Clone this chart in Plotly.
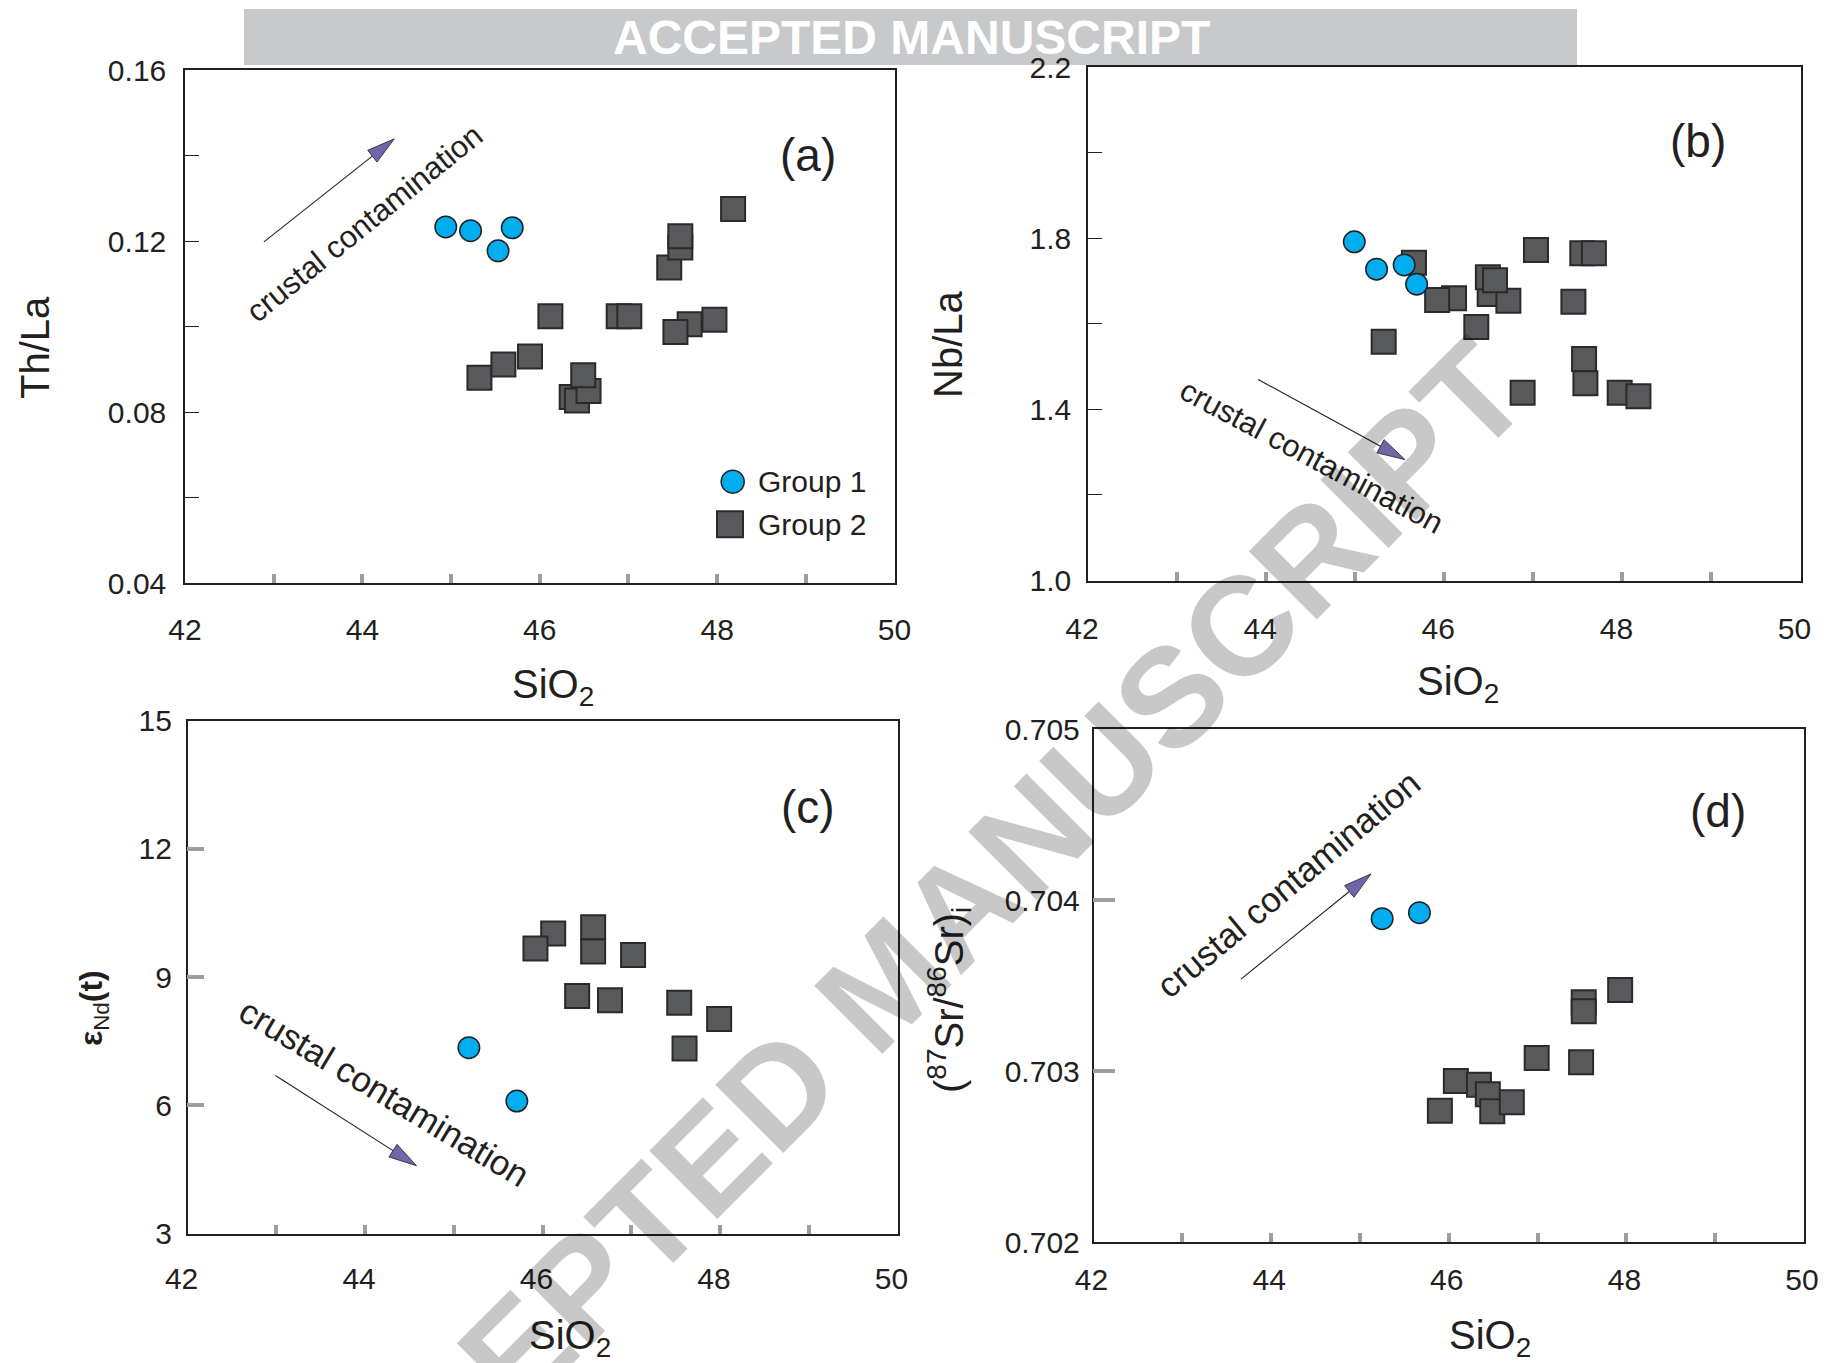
import math
import plotly.graph_objects as go

# ---------------------------------------------------------------
# Sample data: SiO2 (wt.%) against geochemical ratios / isotopes
# ---------------------------------------------------------------
# (a) Th/La
g1_a_sio2 = [44.94, 45.22, 45.69, 45.53]
g1_a_thla = [0.1233, 0.1224, 0.1231, 0.1177]
g2_a_sio2 = [45.32, 45.59, 45.89, 46.12, 46.36, 46.42, 46.55, 46.49, 46.89, 47.01,
             47.46, 47.69, 47.97, 47.53, 47.585, 47.585, 48.18]
g2_a_thla = [0.0880, 0.0911, 0.0930, 0.1024, 0.0835, 0.0827, 0.0849, 0.0886, 0.1024, 0.1024,
             0.1138, 0.1005, 0.1016, 0.0987, 0.1185, 0.1211, 0.1275]

# (b) Nb/La
g1_b_sio2 = [44.99, 45.24, 45.55, 45.69]
g1_b_nbla = [1.792, 1.728, 1.738, 1.693]
g2_b_sio2 = [45.32, 45.66, 46.11, 45.92, 46.36, 46.51, 46.72, 46.49, 46.57, 47.03,
             47.55, 47.68, 47.45, 47.57, 47.585, 46.88, 47.97, 48.18]
g2_b_nbla = [1.558, 1.743, 1.660, 1.656, 1.593, 1.670, 1.654, 1.709, 1.702, 1.773,
             1.765, 1.765, 1.652, 1.518, 1.461, 1.439, 1.439, 1.431]

# (c) eNd(t)
g1_c_sio2 = [45.17, 45.71]
g1_c_end = [7.35, 6.10]
g2_c_sio2 = [46.12, 45.92, 46.57, 46.57, 47.02, 46.39, 46.76, 47.54, 47.99, 47.60]
g2_c_end = [10.02, 9.67, 10.17, 9.60, 9.52, 8.56, 8.46, 8.40, 8.02, 7.33]

# (d) (87Sr/86Sr)i
g1_d_sio2 = [45.25, 45.67]
g1_d_sr = [0.703891, 0.703926]
g2_d_sio2 = [45.90, 46.08, 46.34, 46.44, 46.49, 46.71, 46.99, 47.49, 47.52, 47.52, 47.93]
g2_d_sr = [0.702768, 0.702942, 0.702920, 0.702864, 0.702764, 0.702817, 0.703076, 0.703051,
           0.703402, 0.703349, 0.703474]

sio2_range = [42, 50]
y_ranges = {"a": [0.04, 0.16], "b": [1.0, 2.2], "c": [3, 15], "d": [0.702, 0.705]}
panel_tags = {"a": "(a)", "b": "(b)", "c": "(c)", "d": "(d)"}
legend_labels = ["Group 1", "Group 2"]
trend_label = "crustal contamination"

# trend arrows: (tail x, tail y, tip x, tip y) in data units
trend_arrows = {
    "a": (42.89, 0.1198, 44.36, 0.1439),
    "b": (43.91, 1.470, 45.56, 1.2825),
    "c": (42.99, 6.70, 44.58, 4.586),
    "d": (43.66, 0.703537, 45.125, 0.704153),
}
# trend labels: centre x, centre y, angle, font size
trend_text = {
    "a": (44.02, 0.1241, -39, 31),
    "b": (44.51, 1.289, 28, 31),
    "c": (44.22, 6.30, 31, 35),
    "d": (44.20, 0.704094, -40, 35),
}

# ---------------------------------------------------------------
# Layout geometry (pixels on a 1825 x 1363 canvas)
# ---------------------------------------------------------------
FIG_W, FIG_H = 1825, 1363
PANEL_PX = {  # left, right, top, bottom
    "a": (185.0, 894.5, 70.0, 583.0),
    "b": (1088.0, 1800.5, 67.3, 580.5),
    "c": (187.6, 897.5, 720.8, 1233.5),
    "d": (1093.5, 1804.0, 729.0, 1242.0),
}
AX_ID = {"a": "", "b": "2", "c": "3", "d": "4"}

FONT = "Liberation Sans, Arial, Helvetica, sans-serif"
INK = "#231f20"
BLUE = "#00aeef"
SQ_FILL = "#58595b"
TICK_GREY = "#9d9d9d"
HEAD_FILL = "#6f67a9"


def px_x(p):
    return p / FIG_W


def px_y(p):
    return 1 - p / FIG_H


def to_px(panel, x, y):
    l, r, t, b = PANEL_PX[panel]
    yr = y_ranges[panel]
    return (l + (x - sio2_range[0]) / (sio2_range[1] - sio2_range[0]) * (r - l),
            b - (y - yr[0]) / (yr[1] - yr[0]) * (b - t))


def to_data(panel, px, py):
    l, r, t, b = PANEL_PX[panel]
    yr = y_ranges[panel]
    return (sio2_range[0] + (px - l) / (r - l) * (sio2_range[1] - sio2_range[0]),
            yr[0] + (b - py) / (b - t) * (yr[1] - yr[0]))


fig = go.Figure()

series = {
    "a": (g1_a_sio2, g1_a_thla, g2_a_sio2, g2_a_thla),
    "b": (g1_b_sio2, g1_b_nbla, g2_b_sio2, g2_b_nbla),
    "c": (g1_c_sio2, g1_c_end, g2_c_sio2, g2_c_end),
    "d": (g1_d_sio2, g1_d_sr, g2_d_sio2, g2_d_sr),
}

for key, (x1, y1, x2, y2) in series.items():
    sfx = AX_ID[key]
    fig.add_trace(go.Scatter(
        x=x2, y=y2, mode="markers", name=legend_labels[1], showlegend=False,
        xaxis="x" + sfx, yaxis="y" + sfx, cliponaxis=False,
        marker=dict(symbol="square", size=24, color=SQ_FILL,
                    line=dict(color="#2a2a2b", width=2)),
    ))
    fig.add_trace(go.Scatter(
        x=x1, y=y1, mode="markers", name=legend_labels[0], showlegend=False,
        xaxis="x" + sfx, yaxis="y" + sfx, cliponaxis=False,
        marker=dict(symbol="circle", size=21.5, color=BLUE,
                    line=dict(color=INK, width=1.5)),
    ))

tick_font = dict(family=FONT, size=30, color=INK)
x_label_shift = {"a": 0, "b": -6, "c": -6, "d": -2}
x_label_standoff = {"a": 19, "b": 21, "c": 18, "d": 10}
y_label_standoff = {"a": 11, "b": 9, "c": 8, "d": 6}

layout_axes = {}
for key in "abcd":
    l, r, t, b = PANEL_PX[key]
    sfx = AX_ID[key]
    layout_axes["xaxis" + sfx] = dict(
        domain=[px_x(l), px_x(r)], anchor="y" + sfx, range=sio2_range, automargin=False,
        tick0=42, dtick=2, ticks="inside", ticklen=9, tickwidth=4, tickcolor=TICK_GREY,
        minor=dict(ticks="inside", dtick=1, ticklen=9, tickwidth=4, tickcolor=TICK_GREY),
        showline=True, mirror=True, linecolor=INK, linewidth=1.5,
        showgrid=False, zeroline=False, tickfont=tick_font,
        ticklabelstandoff=x_label_standoff[key], ticklabelshift=x_label_shift[key],
    )
    yax = dict(
        domain=[px_y(b), px_y(t)], anchor="x" + sfx, range=y_ranges[key], automargin=False,
        showline=True, mirror=True, linecolor=INK, linewidth=1.5,
        showgrid=False, zeroline=False, tickfont=tick_font,
        ticks="inside", ticklabelstandoff=y_label_standoff[key],
    )
    if key == "a":
        yax.update(tick0=0.04, dtick=0.04, tickformat=".2f", ticklen=14, tickwidth=1.2,
                   tickcolor=INK,
                   minor=dict(ticks="inside", dtick=0.02, ticklen=14, tickwidth=1.2,
                              tickcolor=INK))
    elif key == "b":
        yax.update(tick0=1.0, dtick=0.4, tickformat=".1f", ticklen=14, tickwidth=1.2,
                   tickcolor=INK,
                   minor=dict(ticks="inside", dtick=0.2, ticklen=14, tickwidth=1.2,
                              tickcolor=INK))
    elif key == "c":
        yax.update(tick0=3, dtick=3, ticklen=17, tickwidth=4, tickcolor=TICK_GREY)
    else:
        yax.update(tick0=0.702, dtick=0.001, tickformat=".3f", ticklen=22, tickwidth=4,
                   tickcolor=TICK_GREY)
    layout_axes["yaxis" + sfx] = yax

annotations = []
shapes = []

# Trend arrows: shaft + filled head, built in pixel space then mapped back to data units
HEAD_LEN, HEAD_HALF = 28, 7.5
for key, (tx, ty, hx, hy) in trend_arrows.items():
    sfx = AX_ID[key]
    p0 = to_px(key, tx, ty)
    p1 = to_px(key, hx, hy)
    dx, dy = p1[0] - p0[0], p1[1] - p0[1]
    n = math.hypot(dx, dy)
    ux, uy = dx / n, dy / n
    base = (p1[0] - HEAD_LEN * ux, p1[1] - HEAD_LEN * uy)
    c1 = (base[0] - HEAD_HALF * uy, base[1] + HEAD_HALF * ux)
    c2 = (base[0] + HEAD_HALF * uy, base[1] - HEAD_HALF * ux)
    bx, by = to_data(key, *base)
    shapes.append(dict(type="line", xref="x" + sfx, yref="y" + sfx,
                       x0=tx, y0=ty, x1=bx, y1=by,
                       line=dict(color=INK, width=1.1)))
    pts = [to_data(key, *p) for p in (p1, c1, c2)]
    path = "M {:.6f},{:.7f} L {:.6f},{:.7f} L {:.6f},{:.7f} Z".format(
        pts[0][0], pts[0][1], pts[1][0], pts[1][1], pts[2][0], pts[2][1])
    shapes.append(dict(type="path", xref="x" + sfx, yref="y" + sfx, path=path,
                       fillcolor=HEAD_FILL, line=dict(color=INK, width=0.8)))

    cx, cy, ang, fsize = trend_text[key]
    annotations.append(dict(
        xref="x" + sfx, yref="y" + sfx, x=cx, y=cy, text=trend_label, textangle=ang,
        showarrow=False, xanchor="center", yanchor="middle",
        font=dict(family=FONT, size=fsize, color=INK),
    ))

# Panel tags
tag_pos = {"a": (808, 155), "b": (1698, 141), "c": (808, 807), "d": (1718, 811)}
for key, (x, y) in tag_pos.items():
    annotations.append(dict(xref="paper", yref="paper", x=px_x(x), y=px_y(y),
                            text=panel_tags[key], showarrow=False,
                            xanchor="center", yanchor="middle",
                            font=dict(family=FONT, size=46, color=INK)))

# Axis titles
title_font = dict(family=FONT, size=40, color=INK)
axis_titles = [
    ("Th/La", 35, 348, -90, title_font),
    ("SiO<sub>2</sub>", 553, 687, 0, title_font),
    ("Nb/La", 948, 344, -90, title_font),
    ("SiO<sub>2</sub>", 1458, 684, 0, title_font),
    ("<b>ε</b><sub>Nd</sub><b>(t)</b>", 93, 1008, -90, dict(family=FONT, size=32, color=INK)),
    ("SiO<sub>2</sub>", 570, 1338, 0, title_font),
    ("(<sup>87</sup>Sr/<sup>86</sup>Sr)<sub>i</sub>", 949, 1000, -90,
     dict(family=FONT, size=40, color=INK)),
    ("SiO<sub>2</sub>", 1490, 1338, 0, title_font),
]
for text, x, y, ang, f in axis_titles:
    annotations.append(dict(xref="paper", yref="paper", x=px_x(x), y=px_y(y), text=text,
                            textangle=ang, showarrow=False, xanchor="center",
                            yanchor="middle", font=f))

# Legend inside panel (a)
legend_rows = [(732.7, 481.7, "circle", BLUE, INK, 23),
               (730.0, 524.3, "square", SQ_FILL, "#2a2a2b", 26)]
for (cx, cy, kind, fill, edge, size), label in zip(legend_rows, legend_labels):
    h = size / 2
    shapes.append(dict(type="circle" if kind == "circle" else "rect",
                       xref="paper", yref="paper",
                       x0=px_x(cx - h), x1=px_x(cx + h), y0=px_y(cy + h), y1=px_y(cy - h),
                       fillcolor=fill, line=dict(color=edge, width=1.5 if kind == "circle" else 2)))
    annotations.append(dict(xref="paper", yref="paper", x=px_x(756), y=px_y(cy), text=label,
                            showarrow=False, xanchor="left", yanchor="middle",
                            font=dict(family=FONT, size=30, color=INK)))

# "Accepted manuscript" banner and diagonal stamp
shapes.append(dict(type="rect", xref="paper", yref="paper",
                   x0=px_x(244), x1=px_x(1577), y0=px_y(65), y1=px_y(9),
                   fillcolor="#c8c9ca", line=dict(width=0), layer="below"))
annotations.append(dict(xref="paper", yref="paper", x=px_x(911), y=px_y(38),
                        text="<b>ACCEPTED MANUSCRIPT</b>", showarrow=False,
                        xanchor="center", yanchor="middle",
                        font=dict(family=FONT, size=48, color="white")))
annotations.append(dict(xref="paper", yref="paper", x=px_x(885), y=px_y(982),
                        text="<b>ACCEPTED MANUSCRIPT</b>", textangle=-45, showarrow=False,
                        xanchor="center", yanchor="middle",
                        font=dict(family=FONT, size=140, color="rgba(0,0,0,0.215)")))

fig.update_layout(
    template="none",
    width=FIG_W, height=FIG_H, autosize=False,
    margin=dict(l=0, r=0, t=0, b=0, pad=0),
    paper_bgcolor="white", plot_bgcolor="rgba(0,0,0,0)",
    showlegend=False, annotations=annotations, shapes=shapes,
    font=dict(family=FONT, color=INK),
    **layout_axes,
)

fig.write_html("out.html", config={"displayModeBar": False})
